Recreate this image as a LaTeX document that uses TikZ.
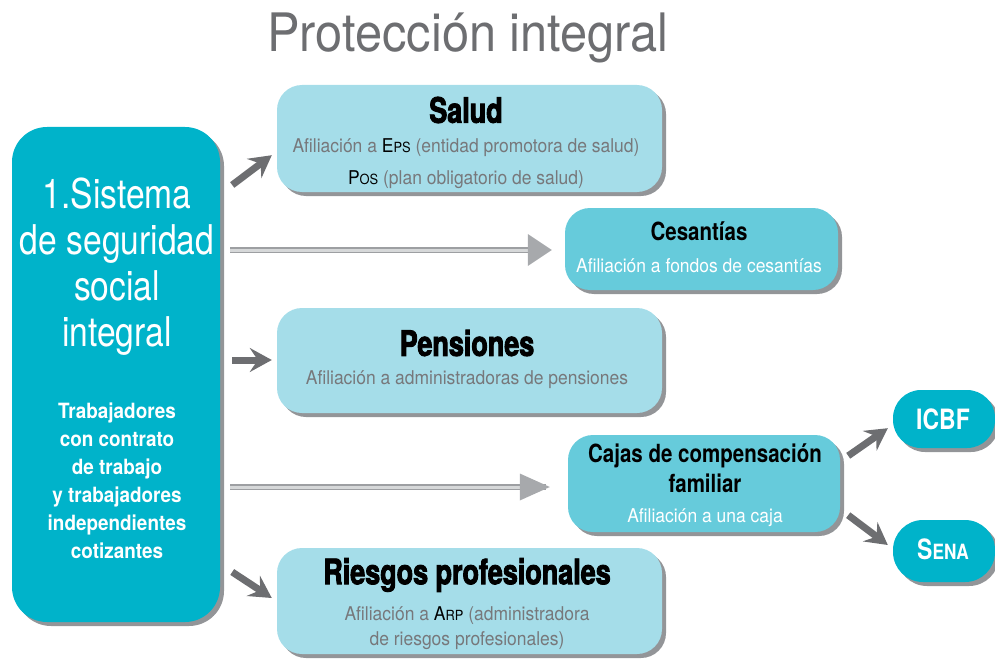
\documentclass[tikz,border=0pt]{standalone}
\usepackage{fontspec}
\setmainfont{TeX Gyre Heros}[FakeStretch=0.92]
\newfontfamily\condfont{TeX Gyre Heros}[FakeStretch=0.82]
\newfontfamily\boldcond{TeX Gyre Heros Bold}[FakeStretch=0.82]
\newfontfamily\boldwide{TeX Gyre Heros Bold}[FakeStretch=0.9]
\newfontfamily\heavyfont{TeX Gyre Heros Bold}[FakeStretch=0.77, FakeBold=2.5]
\usetikzlibrary{shadows,arrows.meta,calc}
\definecolor{teal}{HTML}{00B3CA}
\definecolor{midblue}{HTML}{66CBDB}
\definecolor{lightblue}{HTML}{A5DDE9}
\definecolor{txtgrey}{HTML}{77787B}
\definecolor{titlegrey}{HTML}{6D6E71}
\definecolor{arrowgrey}{HTML}{6D6E71}
\definecolor{dblout}{HTML}{9D9FA2}
\definecolor{dblin}{HTML}{D6D8D9}
\definecolor{headgrey}{HTML}{A7A9AC}
\definecolor{shadowgrey}{HTML}{939598}
\tikzset{
  box/.style={rounded corners=#1, draw=none, inner sep=0pt,
    drop shadow={shadow xshift=4pt, shadow yshift=-4pt, fill=shadowgrey, opacity=1}},
  box/.default=25pt,
  txt/.style={inner sep=0pt, align=center},
  garrow/.style={draw=arrowgrey, line width=7pt,
    -{Stealth[length=22pt,width=24pt,inset=8pt]}},
  dblshaft/.style={draw=dblout, line width=1.5pt, double=dblin, double distance=3pt},
  dblhead/.style={fill=headgrey, draw=none},
  heavy/.style={font=\heavyfont\fontsize{35}{38}\selectfont, text=black},
  boldtitle/.style={font=\boldcond\fontsize{25}{30}\selectfont, text=black},
  greysub/.style={font=\fontsize{19}{32}\selectfont, text=txtgrey},
  whitesub/.style={font=\fontsize{19}{22}\selectfont, text=white},
}
\begin{document}
\begin{tikzpicture}[x=1pt,y=-1pt]
\useasboundingbox (0,0) rectangle (995,658);

% title
\node[txt, font=\fontsize{53}{58}\selectfont, text=titlegrey] (title) at (468,38) {Protección integral};

% main box
\node[box=35pt, fill=teal, minimum width=208pt, minimum height=495pt] (main) at (116,374.5) {};
\node[txt, font=\condfont\fontsize{41}{46}\selectfont, text=white] (maint) at (117,267) {1.Sistema\\de seguridad\\social\\integral};
\node[txt, font=\boldwide\fontsize{21}{28}\selectfont, text=white] (mains) at (117,481) {Trabajadores\\con contrato\\de trabajo\\y trabajadores\\independientes\\cotizantes};

% Salud
\node[box, fill=lightblue, minimum width=385pt, minimum height=107pt] (salud) at (469.5,138.5) {};
\node[txt, heavy] (saludt) at (466,110) {Salud};
\node[txt, greysub] (saluds) at (466,164) {Afiliación a \textcolor{black}{E{\fontsize{14}{14}\selectfont PS}} (entidad promotora de salud)\\\textcolor{black}{P{\fontsize{14}{14}\selectfont OS}} (plan obligatorio de salud)};

% Cesantias
\node[box, fill=midblue, minimum width=273pt, minimum height=82pt] (ces) at (701.5,249) {};
\node[txt, boldtitle] (cest) at (699,231) {Cesantías};
\node[txt, whitesub] (cess) at (699,266) {Afiliación a fondos de cesantías};

% Pensiones
\node[box, fill=lightblue, minimum width=385pt, minimum height=105pt] (pens) at (469.5,360.5) {};
\node[txt, heavy] (penst) at (467,343) {Pensiones};
\node[txt, greysub] (penss) at (467,380) {Afiliación a administradoras de pensiones};

% Cajas
\node[box, fill=midblue, minimum width=272pt, minimum height=97pt] (cajas) at (704,483.5) {};
\node[txt, boldtitle] (cajast) at (705,468) {Cajas de compensación\\familiar};
\node[txt, whitesub] (cajass) at (705,518) {Afiliación a una caja};

% Riesgos
\node[box, fill=lightblue, minimum width=385pt, minimum height=106pt] (ries) at (469.5,601) {};
\node[txt, heavy] (riest) at (467,575) {Riesgos profesionales};
\node[txt, font=\fontsize{19}{25}\selectfont, text=txtgrey] (riess) at (467,628) {Afiliación a \textcolor{black}{A{\fontsize{14}{14}\selectfont RP}} (administradora\\de riesgos profesionales)};

% ICBF / Sena
\node[box=28pt, fill=teal, minimum width=102pt, minimum height=58pt] (icbf) at (944,419) {};
\node[txt, font=\boldcond\fontsize{28}{30}\selectfont, text=white] (icbft) at (943,419) {ICBF};
\node[box=30pt, fill=teal, minimum width=102pt, minimum height=62pt] (sena) at (944,551) {};
\node[txt, font=\boldcond\fontsize{28}{30}\selectfont, text=white] (senat) at (943,549) {S{\fontsize{21}{22}\selectfont ENA}};

% arrows from main box
\draw[garrow] ($(main.east)+(12,-189.5)$) -- ($(salud.south west)+(-5,-37)$);
\draw[garrow] ($(main.east)+(12,-14.5)$) -- ($(pens.west)+(-5,-0.5)$);
\draw[garrow] ($(main.east)+(12,197.5)$) -- ($(ries.west)+(-5,-3)$);

% double arrows
\draw[dblshaft] ($(main.east)+(10,-124.5)$) -- ($(ces.west)+(-33,1)$);
\fill[dblhead] ($(ces.west)+(-37,-15)$) -- ($(ces.west)+(-13,1)$) -- ($(ces.west)+(-37,17)$) -- cycle;
\draw[dblshaft] ($(main.east)+(10,112.5)$) -- ($(cajas.west)+(-22,3.5)$);
\fill[dblhead] ($(cajas.west)+(-48,-10)$) -- ($(cajas.west)+(-18,3.5)$) -- ($(cajas.west)+(-48,17)$) -- cycle;

% cajas to ICBF / Sena
\draw[garrow] ($(cajas.north east)+(8,21)$) -- ($(icbf.south west)+(-5,-20)$);
\draw[garrow] ($(cajas.south east)+(8,-17)$) -- ($(sena.west)+(-5,-6)$);
\end{tikzpicture}
\end{document}
